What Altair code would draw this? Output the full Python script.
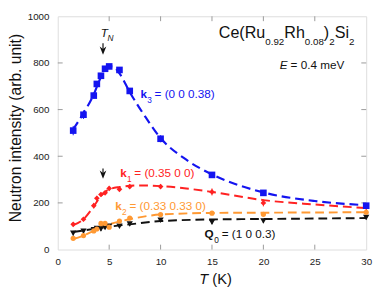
import altair as alt
import pandas as pd

# ---------------- data ----------------
T = [1.5, 2.5, 3.5, 3.8, 4.2, 4.6, 5, 6, 7, 10, 15, 20, 30]
k3_I = [510, 578, 660, 710, 745, 775, 785, 770, 680, 475, 320, 243, 188]
k3_err = [20, 18, 12, 10, 10, 10, 10, 10, 10, 15, 12, 10, 10]
k1_I = [108, 130, 188, 220, 236, 243, 262, 258, 270, 270, 247, 200, 182]
k1_err = [8, 8, 12, 10, 8, 8, 8, 8, 8, 10, 15, 15, 10]
k2_I = [48, 60, 80, 88, 112, 112, 96, 122, 135, 150, 156, 151, 160]
k2_err = [6, 6, 6, 6, 6, 6, 6, 6, 6, 6, 6, 6, 6]
q0_I = [70, 78, 85, 90, 88, 95, 100, 100, 110, 126, 117, 122, 137]
q0_err = [10, 8, 8, 8, 8, 8, 8, 8, 8, 8, 8, 8, 8]

# dashed guide curves
k3_fit_T = [1.5, 2.5, 3.5, 4.2, 4.8, 5.3, 6, 7, 8.5, 10, 12.5, 15, 20, 25, 30]
k3_fit_I = [515, 585, 665, 740, 785, 785, 755, 675, 570, 478, 385, 322, 245, 208, 190]
k1_fit_T = [1.5, 2.5, 3.5, 4.2, 5, 6, 8, 10, 12.5, 15, 20, 25, 30]
k1_fit_I = [105, 130, 185, 230, 258, 268, 275, 272, 262, 247, 212, 193, 178]
k2_fit_T = [1.5, 2.5, 3.5, 4.5, 5, 6, 7, 10, 15, 20, 30]
k2_fit_I = [45, 60, 80, 100, 108, 120, 130, 150, 157, 158, 160]
q0_fit_T = [1.5, 2.5, 4, 5, 7, 10, 15, 20, 30]
q0_fit_I = [75, 82, 92, 98, 108, 122, 129, 131, 135]

x_ticks = [5, 10, 15, 20, 25]
y_ticks = [200, 400, 600, 800]
x_labels = [0, 5, 10, 15, 20, 25, 30]
y_labels = [0, 200, 400, 600, 800, 1000]

BLUE = "#1414f0"
RED = "#ff2222"
ORANGE = "#ff9933"
BLACK = "#111111"
FONT = "Liberation Sans"

W, H = 316, 239
xs = alt.Scale(domain=[0, 30], nice=False, zero=False)
ys = alt.Scale(domain=[0, 1000], nice=False, zero=False)

xaxis = alt.Axis(values=x_labels, title=None, grid=False, domain=False, ticks=False,
                 tickSize=0, labelFontSize=10, labelColor="#222", labelPadding=7,
                 labelFont=FONT, format="d", labelFlush=False)
yaxis = alt.Axis(values=y_labels, title="Neutron intensity (arb. unit)", grid=False,
                 domain=False, ticks=False, tickSize=0, labelFontSize=10,
                 labelColor="#222", labelPadding=9, labelFont=FONT, format="d",
                 labelFlush=False,
                 titleFont=FONT, titleFontSize=16, titleFontWeight="normal",
                 titleColor=BLACK, titleX=-38.5, titleY=114, titleBaseline="alphabetic",
                 titleAlign="center")


def X(f):
    return alt.X(f, type="quantitative", scale=xs, axis=xaxis)


def Y(f):
    return alt.Y(f, type="quantitative", scale=ys, axis=yaxis)


layers = []


def series(Ts, I, err, color, shape, size):
    df = pd.DataFrame({"T": Ts, "I": I, "lo": [a - b for a, b in zip(I, err)],
                       "hi": [a + b for a, b in zip(I, err)]})
    eb = alt.Chart(df).mark_rule(color=color, strokeWidth=1).encode(
        x=X("T"), y=Y("lo"), y2="hi")
    pt = alt.Chart(df).mark_point(shape=shape, filled=True, color=color, size=size,
                                  opacity=1).encode(x=X("T"), y=Y("I"))
    return [eb, pt]


def fit(Ts, I, color, width=2.0):
    df = pd.DataFrame({"T": Ts, "I": I})
    return alt.Chart(df).mark_line(color=color, strokeWidth=width, strokeDash=[9, 5],
                                   interpolate="monotone").encode(x=X("T"), y=Y("I"))


# inward frame ticks
def rules_x(y0, y1):
    return alt.Chart(pd.DataFrame({"t": x_ticks})).mark_rule(color="#999", strokeWidth=1).encode(
        x=X("t"), y=alt.value(y0), y2=alt.value(y1))


def rules_y(x0, x1):
    return alt.Chart(pd.DataFrame({"t": y_ticks})).mark_rule(color="#999", strokeWidth=1).encode(
        y=Y("t"), x=alt.value(x0), x2=alt.value(x1))


layers += [rules_x(H, H - 5), rules_x(0, 5), rules_y(0, 5), rules_y(W, W - 5)]

layers += [fit(q0_fit_T, q0_fit_I, BLACK), fit(k2_fit_T, k2_fit_I, ORANGE),
           fit(k1_fit_T, k1_fit_I, RED), fit(k3_fit_T, k3_fit_I, BLUE, 2.2)]
layers += series(T, q0_I, q0_err, BLACK, "triangle-down", 42)
layers += series(T, k2_I, k2_err, ORANGE, "circle", 28)
layers += series(T, k1_I, k1_err, RED, "diamond", 34)
layers += series(T, k3_I, k3_err, BLUE, "square", 46)


def txt(Tv, Iv, s, size, color=BLACK, weight="normal", style="normal", dx=0, dy=0):
    df = pd.DataFrame({"T": [Tv], "I": [Iv], "s": [s]})
    return alt.Chart(df).mark_text(align="left", baseline="alphabetic", font=FONT,
                                   fontSize=size, color=color, fontWeight=weight,
                                   fontStyle=style, dx=dx, dy=dy).encode(
        x=X("T"), y=Y("I"), text="s:N")


# compound formula
F, f = 16.5, 10
fx, fy = 15.66, 906
pieces = [("Ce(Ru", F, 0), ("0.92", f, 1), ("Rh", F, 0), ("0.08", f, 1),
          (")", F, 0), ("2", f, 1), ("Si", F, 0), ("2", f, 1)]
em = {"Ce(Ru": 2.889, "0.92": 1.946, "Rh": 1.278, "0.08": 1.946, ")": 0.333,
      "2": 0.556, "Si": 0.889}
off = 0.0
for s, sz, sub in pieces:
    layers.append(txt(fx, fy, s, sz, dx=off, dy=7 if sub else 0))
    off += em[s] * sz

layers.append(txt(21.6, 774, "E", 12, style="italic"))
layers.append(txt(21.6, 774, "= 0.4 meV", 12, dx=11))

# T_N and arrows
layers.append(txt(4.18, 910, "T", 12, style="italic"))
layers.append(txt(4.18, 910, "N", 8.5, style="italic", dx=7, dy=4))

arrows = pd.DataFrame({"T": [4.4, 4.4], "top": [884, 348], "mid": [853, 321]})
layers.append(alt.Chart(arrows).mark_rule(color=BLACK, strokeWidth=1.2).encode(
    x=X("T"), y=Y("top"), y2="mid"))
layers.append(alt.Chart(arrows).mark_point(
    shape="M0,1L-0.8,-1L0,-0.4L0.8,-1Z", filled=True, color=BLACK, size=72,
    opacity=1).encode(x=X("T"), y=Y("mid")))

# series labels
def klabel(Tv, Iv, main, sub, rest, color, subdx, restdx):
    return [txt(Tv, Iv, main, 12, color=color, weight="bold"),
            txt(Tv, Iv, sub, 8.5, color=color, dx=subdx, dy=5),
            txt(Tv, Iv, rest, 12, color=color, dx=restdx)]


layers += klabel(8.04, 648, "k", "3", "= (0 0 0.38)", BLUE, 7, 14.5)
layers += klabel(6.07, 310, "k", "1", "= (0.35 0 0)", RED, 7, 14.5)
layers += klabel(5.59, 168, "k", "2", "= (0.33 0.33 0)", ORANGE, 7, 14.5)
layers += klabel(14.28, 50, "Q", "0", "= (1 0 0.3)", BLACK, 10, 17.5)

# x axis title (italic T + (K))
layers.append(alt.Chart(pd.DataFrame({"s": ["T"]})).mark_text(
    align="left", baseline="alphabetic", font=FONT, fontSize=15, fontStyle="italic",
    color=BLACK).encode(x=alt.value(145), y=alt.value(274), text="s:N"))
layers.append(alt.Chart(pd.DataFrame({"s": ["(K)"]})).mark_text(
    align="left", baseline="alphabetic", font=FONT, fontSize=15,
    color=BLACK).encode(x=alt.value(158.4), y=alt.value(274), text="s:N"))

chart = alt.layer(*layers).properties(
    width=W, height=H,
    autosize=alt.AutoSizeParams(type="none"),
    padding={"left": 51, "top": 5, "right": 8, "bottom": 40},
).configure_view(stroke="#999", strokeWidth=1).configure(background="white")

chart.save("out.html", embed_options={"renderer": "svg", "actions": False})
